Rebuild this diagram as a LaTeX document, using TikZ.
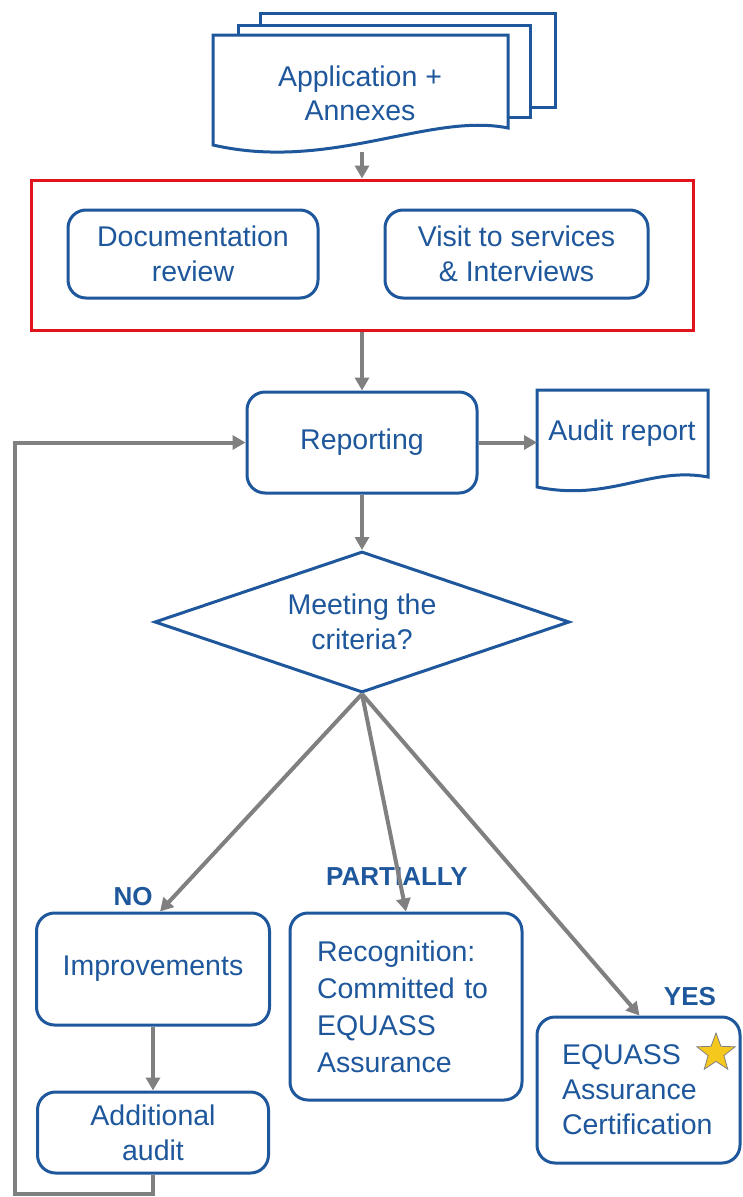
\documentclass[tikz,border=0pt]{standalone}
\usepackage{fontspec}
\setmainfont{Liberation Sans}
\usetikzlibrary{shapes.geometric,arrows.meta,calc}
\definecolor{eblue}{RGB}{30,87,155}
\definecolor{egray}{RGB}{128,128,128}
\definecolor{ered}{RGB}{225,20,30}
\definecolor{estar}{RGB}{245,200,30}
\tikzset{
  box/.style={draw=eblue, line width=3pt, rounded corners=18pt, fill=white, text=eblue,
    font=\fontsize{28.5}{35}\selectfont, align=center, inner sep=0pt},
  docshape/.style={draw=eblue, line width=3pt, fill=white},
  doctext/.style={text=eblue, font=\fontsize{28.5}{34}\selectfont, align=center, inner sep=0pt},
  flow/.style={draw=egray, line width=4pt, -{Triangle[length=13pt,width=14pt]}},
  lbl/.style={text=eblue, font=\fontsize{26}{30}\selectfont\bfseries, inner sep=0pt},
}
\begin{document}
\begin{tikzpicture}[x=1pt,y=-1pt]
\useasboundingbox[fill=white] (0,0) rectangle (742,1197);

% document stack
\draw[docshape] (260,13) rectangle (555,107);
\draw[docshape] (238,25) rectangle (530,117);
\draw[docshape] (213,35) -- (508,35) -- (508,128) .. controls (430,112) and (330,172) .. (213,145) -- cycle;
\node[doctext] (app) at (360,93) {Application +\\Annexes};
\coordinate (appb) at (362,152);

% review frame
\node[draw=ered, line width=3pt, minimum width=662pt, minimum height=150pt, inner sep=0pt] (rev) at (362,255) {};
\node[box, minimum width=250pt, minimum height=88pt] (doc) at (193,254) {Documentation\\review};
\node[box, minimum width=263pt, minimum height=88pt] (visit) at (516.5,254) {Visit to services\\\& Interviews};

% reporting
\node[box, minimum width=230pt, minimum height=101pt] (rep) at (362,442.5) {Reporting};

% audit report
\draw[docshape] (537,390) -- (708,390) -- (708,477) .. controls (650,466) and (610,502) .. (537,487) -- cycle;
\node[doctext] (audit) at (622,433) {Audit report};
\coordinate (auditw) at (537,442.5);

% decision
\node[diamond, aspect=3, draw=eblue, line width=3pt, fill=white, minimum width=415pt, minimum height=141pt,
  inner sep=0pt, text=eblue, font=\fontsize{28.5}{35}\selectfont, align=center] (dia) at (362,622) {Meeting the\\criteria?};

% outcomes
\node[box, minimum width=233pt, minimum height=112pt] (imp) at (153,969) {Improvements};
\node[box, minimum width=232pt, minimum height=187pt, text width=178pt, align=left,
  font=\fontsize{28.5}{37}\selectfont] (recog) at (406,1006.5)
  {Recognition:\\Committed to\\EQUASS\\Assurance};
\node[box, minimum width=203pt, minimum height=146pt, text width=153pt, align=left] (cert) at (638.5,1090)
  {EQUASS\\Assurance\\Certification};
\node[star, star points=5, star point ratio=2.4, minimum size=40pt, inner sep=0pt, fill=estar, draw=egray, line width=0.8pt] (star) at (716,1053) {};
\node[box, minimum width=231pt, minimum height=81pt] (add) at (153,1132.5) {Additional\\audit};

% labels
\node[lbl] (no) at (133,897) {NO};
\node[lbl] (part) at (397,877) {PARTIALLY};
\node[lbl] (yes) at (690,997) {YES};

% connectors
\draw[flow] (appb) -- (rev.north);
\draw[flow] (rev.south) -- (rep.north);
\draw[flow] (rep.east) -- (auditw);
\draw[flow] (rep.south) -- (dia.north);
\draw[flow] (dia.south) -- ([xshift=7pt]imp.north);
\draw[flow] (dia.south) -- (recog.north);
\draw[flow] (dia.south) -- ([xshift=1pt]cert.north);
\draw[flow] (imp.south) -- (add.north);
\coordinate (fb1) at (153,1194);
\coordinate (fb2) at (15,1194);
\coordinate (fb3) at (15,442.5);
\draw[flow, line join=miter] (add.south) -- (fb1) -- (fb2) -- (fb3) -- (rep.west);
\end{tikzpicture}
\end{document}
